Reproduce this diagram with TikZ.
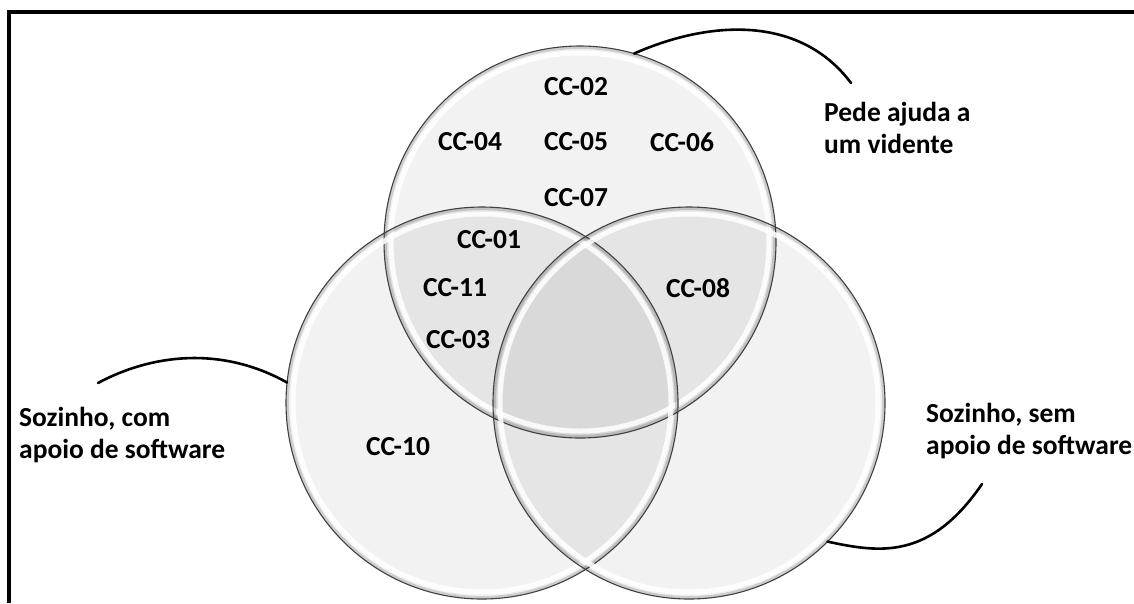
\documentclass[tikz,border=0pt]{standalone}
\usepackage{fontspec}
\setmainfont{Carlito}
\begin{document}
\begin{tikzpicture}[x=1pt,y=-1pt,
  lbl/.style={font=\bfseries\fontsize{27.5}{32}\selectfont, inner sep=0pt},
  setname/.style={lbl, align=left},
  callout/.style={line width=2.6pt, line cap=round},
  ring/.style={circle, minimum size=392pt, inner sep=0pt, outer sep=0pt},
  setfill/.style={fill=black, fill opacity=0.05},
  rimlight/.style={draw=white, line width=5pt, draw opacity=0.85},
  rimshade/.style={draw=black, line width=3pt, draw opacity=0.15},
  rimline/.style={draw=black!75, line width=1.1pt},
]
\useasboundingbox (0,0) rectangle (1134,603);
\fill[white] (0,0) rectangle (1134,603);

% outer frame (left and top sides)
\draw[line width=4pt] (9,603) -- (9,12) -- (1134,12);

% the three sets
\node[ring] (T) at (580,242) {};
\node[ring] (L) at (482,403) {};
\node[ring] (R) at (689,403) {};

\foreach \c in {T,L,R}
  \fill[setfill] (\c.center) circle[radius=196pt];
\foreach \c in {T,L,R}{
  \draw[rimshade] (\c.center) circle[radius=194.5pt];
  \draw[rimlight] (\c.center) circle[radius=189pt];
  \draw[rimline] (\c.center) circle[radius=196pt];
}

% set names (anchored on the baseline of their last line)
\node[setname, anchor=base west] (pede) at (824,153) {Pede ajuda a\\um vidente};
\node[setname, anchor=base west] (comsw) at (19,458) {Sozinho, com\\apoio de software};
\node[setname, anchor=base west] (semsw) at (926,454) {Sozinho, sem\\apoio de software};

% callout lines
\coordinate (pedeEnd) at (851,83);
\coordinate (comEnd) at (98,383);
\coordinate (semEnd) at (982,484);
\draw[callout] (T.74) .. controls (710,20) and (800,15) .. (pedeEnd);
\draw[callout] (comEnd) .. controls (150,355) and (220,345) .. (L.174);
\draw[callout] (R.-45) .. controls (880,553) and (930,560) .. (semEnd);

% members
\node[lbl] (cc02) at (576,87) {CC-02};
\node[lbl] (cc04) at (470,142) {CC-04};
\node[lbl] (cc05) at (576,142) {CC-05};
\node[lbl] (cc06) at (682,142) {CC-06};
\node[lbl] (cc07) at (576,198) {CC-07};
\node[lbl] (cc01) at (489,240) {CC-01};
\node[lbl] (cc11) at (455,288) {CC-11};
\node[lbl] (cc03) at (458,340) {CC-03};
\node[lbl] (cc08) at (698,288) {CC-08};
\node[lbl] (cc10) at (398,447) {CC-10};
\end{tikzpicture}
\end{document}
